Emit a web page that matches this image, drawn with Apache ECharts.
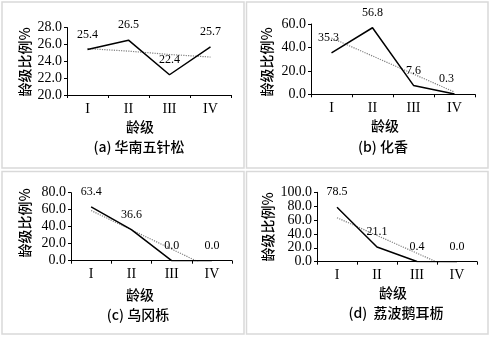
<!DOCTYPE html>
<html>
<head>
<meta charset="utf-8">
<script src="https://cdn.jsdelivr.net/npm/echarts@6/dist/echarts.min.js"></script>
<style>
  html, body { margin: 0; padding: 0; background: #fff; }
  #chart { width: 491px; height: 337px; }
</style>
</head>
<body>
<div id="chart"></div>
<script>
// 龄级
const categories = ["I", "II", "III", "IV"];

// (a) 华南五针松
const valuesA = [25.4, 26.5, 22.4, 25.7];
const trendA = [25.5, 25.2, 24.8, 24.5];
// (b) 化香
const valuesB = [35.3, 56.8, 7.6, 0.3];
const trendB = [48.1, 32.7, 17.3, 1.9];
// (c) 乌冈栎
const valuesC = [63.4, 36.6, 0.0, 0.0];
const trendC = [59.0, 36.3, 13.7, -9.0];
// (d) 荔波鹅耳枥
const valuesD = [78.5, 21.1, 0.4, 0.0];
const trendD = [63.4, 37.8, 12.2, -13.4];

const panelTitles = ["(a) 华南五针松", "(b) 化香", "(c) 乌冈栎", "(d)  荔波鹅耳枥"];
const yTicksA = [20, 28, 2];
const yTicksB = [0, 60, 20];
const yTicksC = [0, 80, 20];
const yTicksD = [0, 100, 20];

const serif = "'Liberation Serif', 'Noto Sans CJK SC', serif";
const cjk = "'Noto Sans CJK SC', 'Liberation Serif', sans-serif";

const chart = echarts.init(document.getElementById("chart"));

// 每个小图的位置
const grids = [
  { left: 67, top: 27.5, width: 164, height: 67.5 },
  { left: 311, top: 24, width: 164, height: 70.3 },
  { left: 71, top: 192.7, width: 161, height: 68 },
  { left: 317, top: 192.3, width: 160, height: 69.4 },
];
const yTicks = [yTicksA, yTicksB, yTicksC, yTicksD];
const values = [valuesA, valuesB, valuesC, valuesD];
const trends = [trendA, trendB, trendC, trendD];
// 个别标签左移一点（图b）
const labelShift = [[0, 0, 0, 0], [-3, 0, 0, -8], [0, 0, 0, 0], [0, 0, 0, 0]];

const xAxis = grids.map((g, i) => ({
  type: "category",
  gridIndex: i,
  data: categories,
  boundaryGap: true,
  axisLine: { lineStyle: { color: "#000", width: 1 } },
  axisTick: { show: true, length: 3, lineStyle: { color: "#000" } },
  axisLabel: { color: "#000", fontFamily: serif, fontSize: 14, margin: 7 },
}));

const yAxis = grids.map((g, i) => ({
  type: "value",
  gridIndex: i,
  min: yTicks[i][0],
  max: yTicks[i][1],
  interval: yTicks[i][2],
  axisLine: { show: true, lineStyle: { color: "#000", width: 1 } },
  axisTick: { show: true, length: 3, lineStyle: { color: "#000" } },
  splitLine: { show: false },
  axisLabel: {
    color: "#000",
    fontFamily: serif,
    fontSize: 14,
    margin: 5,
    formatter: (v) => v.toFixed(1),
  },
}));

const series = [];
grids.forEach((g, i) => {
  series.push({
    type: "line",
    xAxisIndex: i,
    yAxisIndex: i,
    data: trends[i],
    showSymbol: false,
    clip: true,
    silent: true,
    lineStyle: { color: "#808080", width: 1.2, type: "dotted" },
    z: 1,
  });
  series.push({
    type: "line",
    xAxisIndex: i,
    yAxisIndex: i,
    data: values[i].map((v, j) => ({
      value: v,
      label: { offset: [labelShift[i][j], 0] },
    })),
    symbol: "circle",
    symbolSize: 0,
    showSymbol: true,
    lineStyle: { color: "#000", width: 1.5 },
    label: {
      show: true,
      position: "top",
      distance: 9,
      color: "#000",
      fontFamily: serif,
      fontSize: 12,
      formatter: (p) => p.value.toFixed(1),
    },
    z: 2,
  });
});

// 边框和文字
const boxes = [
  { x: 2, y: 2, w: 242, h: 166 },
  { x: 246.5, y: 2, w: 241.5, h: 166 },
  { x: 2, y: 171.5, w: 242, h: 162.5 },
  { x: 246.5, y: 171.5, w: 241.5, h: 162.5 },
];
const xNamePos = [[140, 127], [385, 126], [140, 295], [393, 293]];
const titlePos = [[139, 147], [383, 147], [138, 315], [396, 313]];
const yNamePos = [[25, 62], [267, 62], [25, 223], [268, 227]];

const graphic = [];
boxes.forEach((b, i) => {
  graphic.push({
    type: "rect",
    shape: { x: b.x, y: b.y, width: b.w, height: b.h },
    style: { fill: "none", stroke: "#d9d9d9", lineWidth: 1.5 },
    silent: true,
  });
  graphic.push({
    type: "text",
    x: xNamePos[i][0],
    y: xNamePos[i][1],
    style: {
      text: "龄级",
      fill: "#000",
      font: "500 14px " + cjk,
      textAlign: "center",
      textVerticalAlign: "middle",
    },
  });
  graphic.push({
    type: "text",
    x: titlePos[i][0],
    y: titlePos[i][1],
    style: {
      text: panelTitles[i],
      fill: "#000",
      font: "500 14px " + cjk,
      textAlign: "center",
      textVerticalAlign: "middle",
    },
  });
  graphic.push({
    type: "text",
    x: yNamePos[i][0],
    y: yNamePos[i][1],
    rotation: Math.PI / 2,
    style: {
      text: "龄级比例%",
      fill: "#000",
      font: "500 14px " + cjk,
      textAlign: "center",
      textVerticalAlign: "middle",
    },
  });
});

chart.setOption({
  backgroundColor: "#fff",
  animation: false,
  grid: grids,
  xAxis: xAxis,
  yAxis: yAxis,
  series: series,
  graphic: graphic,
});
</script>
</body>
</html>
